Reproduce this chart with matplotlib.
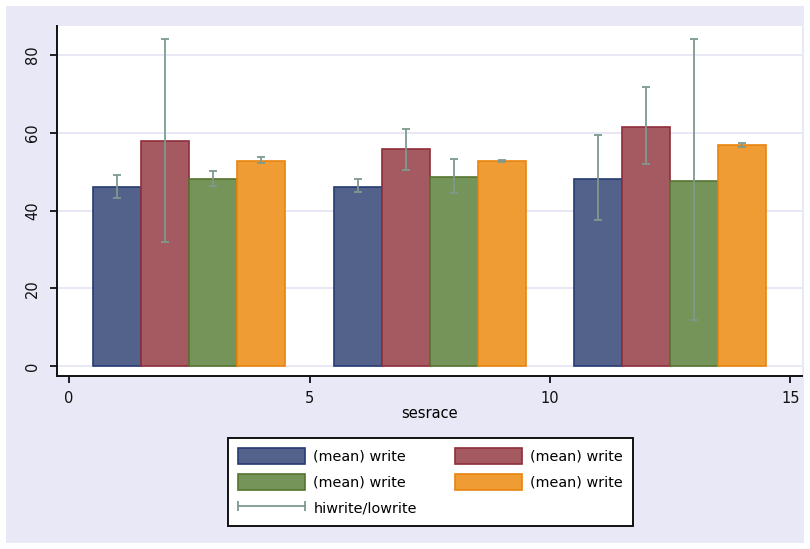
import matplotlib
matplotlib.use("Agg")
import matplotlib.pyplot as plt
from matplotlib.patches import Rectangle, Patch
from matplotlib.lines import Line2D
from matplotlib.legend_handler import HandlerLine2D

# Bar positions on the sesrace axis and the mean of write for each bar
positions = [1, 2, 3, 4, 6, 7, 8, 9, 11, 12, 13, 14]
mean_write = [46.0, 57.9, 48.0, 52.7,
              46.0, 55.8, 48.5, 52.7,
              48.0, 61.5, 47.5, 56.8]
hiwrite = [49.1, 84.1, 50.1, 53.8,
           48.0, 61.0, 53.2, 53.1,
           59.3, 71.7, 84.1, 57.4]
lowrite = [43.3, 32.0, 46.4, 52.1,
           44.8, 50.5, 44.4, 52.6,
           37.6, 52.0, 11.8, 56.3]

series_labels = ["(mean) write", "(mean) write", "(mean) write", "(mean) write"]
range_label = "hiwrite/lowrite"
xticks = [0, 5, 10, 15]
yticks = [0, 20, 40, 60, 80]
xlabel = "sesrace"

fills = ["#52628a", "#a55960", "#74945a", "#ee9c33"]
edges = ["#263b73", "#8f2e3a", "#56742f", "#e8840f"]
err_color = "#7d9a8e"
bg = "#e8e8f6"

W, H = 810, 549
fig = plt.figure(figsize=(W / 100, H / 100), dpi=100)
fig.patch.set_facecolor("white")
fig.patches.append(Rectangle((6 / W, 6 / H), (W - 12) / W, (H - 12) / H,
                             transform=fig.transFigure, facecolor=bg,
                             edgecolor="none", zorder=-10))

left, right, top, bottom = 57, 802, 26, 376
ax = fig.add_axes([left / W, 1 - bottom / H, (right - left) / W, (bottom - top) / H])
ax.set_facecolor("white")

for i, (x, m) in enumerate(zip(positions, mean_write)):
    k = i % 4
    ax.bar(x, m, width=1.0, color=fills[k], edgecolor=edges[k], linewidth=1.2, zorder=2)

for x, hi, lo in zip(positions, hiwrite, lowrite):
    ax.errorbar(x, (hi + lo) / 2, yerr=[[(hi - lo) / 2], [(hi - lo) / 2]],
                fmt="none", ecolor=err_color, elinewidth=1.3, capsize=2.8,
                capthick=1.3, zorder=3)

ax.set_xlim(-0.25, 15.24)
ax.set_ylim(-2.57, 87.46)
ax.set_xticks(xticks)
ax.set_yticks(yticks)
ax.set_xticklabels([str(t) for t in xticks])
ax.set_yticklabels([str(t) for t in yticks], rotation=90, va="center")
ax.grid(axis="y", color="#e6e6f4", linewidth=1.3, zorder=0)
ax.set_axisbelow(True)
for s in ["top", "right"]:
    ax.spines[s].set_visible(False)
for s in ["left", "bottom"]:
    ax.spines[s].set_color("#111111")
    ax.spines[s].set_linewidth(1.4)
ax.tick_params(direction="out", length=5, width=1.3, colors="#111111",
               labelsize=10.5)
ax.tick_params(axis="x", pad=6)
ax.tick_params(axis="y", pad=7)
ax.set_xlabel(xlabel, fontsize=10.5, labelpad=0)

fs = 10.4
fpx = fs * 100 / 72
handles = [Patch(facecolor=fills[0], edgecolor=edges[0], linewidth=1.2),
           Patch(facecolor=fills[2], edgecolor=edges[2], linewidth=1.2),
           Line2D([0], [0], color=err_color, linewidth=1.3, marker="|",
                  markersize=7, markeredgewidth=1.3),
           Patch(facecolor=fills[1], edgecolor=edges[1], linewidth=1.2),
           Patch(facecolor=fills[3], edgecolor=edges[3], linewidth=1.2)]
labels = [series_labels[0], series_labels[2], range_label, series_labels[1], series_labels[3]]
leg = fig.legend(handles, labels, ncol=2, loc="center", numpoints=2,
                 handler_map={Line2D: HandlerLine2D(marker_pad=0)},
                 bbox_to_anchor=(430.5 / W, 1 - 482 / H), fontsize=fs,
                 handlelength=67 / fpx, handleheight=20 / fpx,
                 labelspacing=9.5 / fpx, handletextpad=8 / fpx,
                 columnspacing=38 / fpx, borderpad=10 / fpx,
                 frameon=True, fancybox=False, framealpha=1)
leg.get_frame().set_edgecolor("#111111")
leg.get_frame().set_linewidth(1.4)
leg.get_frame().set_facecolor("white")

fig.savefig("out.png", dpi=100)
